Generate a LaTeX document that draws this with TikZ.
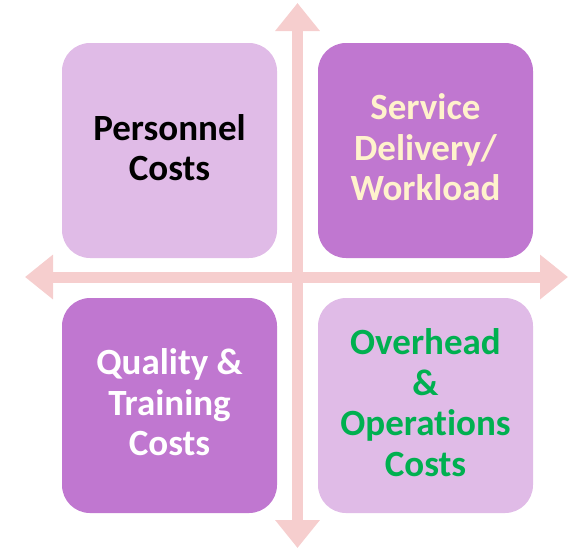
\documentclass[tikz,border=0pt]{standalone}
\usepackage{fontspec}
\setmainfont{Carlito}[RawFeature=-liga]
\usepackage{tikz}
\usetikzlibrary{arrows.meta}
\definecolor{box_light}{RGB}{224,187,231}
\definecolor{box_dark}{RGB}{192,119,208}
\definecolor{axis_pink}{RGB}{246,206,206}
\definecolor{text_cream}{RGB}{255,242,204}
\definecolor{text_green}{RGB}{0,176,80}

\begin{document}
\begin{tikzpicture}[x=1pt,y=-1pt,semithick]
    \tikzstyle{quad}=[rounded corners=28pt, minimum size=215pt, inner sep=0pt, align=center, font=\bfseries\fontsize{37}{40.5}\selectfont, execute at end node={\rule[-6pt]{0pt}{0pt}}]
    \tikzstyle{axis}=[draw=axis_pink, line width=11pt, {Triangle[width=43pt,length=28pt]}-{Triangle[width=43pt,length=28pt]}]
    \useasboundingbox (0,0) rectangle (569,550);

    % axes
    \coordinate (top)    at (297.5,3);
    \coordinate (bottom) at (297.5,548);
    \coordinate (left)   at (25,277);
    \coordinate (right)  at (568,277);
    \path
     (top)  edge[axis] (bottom)
     (left) edge[axis] (right)
     ;

    % quadrants
    \node[quad, fill=box_light, text=black]      (pers) at (169.5,150.5) {Personnel\\Costs};
    \node[quad, fill=box_dark,  text=text_cream] (serv) at (425.5,150.5) {Service\\Delivery/\\Workload};
    \node[quad, fill=box_dark,  text=white]      (qual) at (169.5,405.5) {Quality \&\\Training\\Costs};
    \node[quad, fill=box_light, text=text_green] (over) at (425.5,405.5) {Overhead\\\&\\Operations\\Costs};
\end{tikzpicture}
\end{document}
